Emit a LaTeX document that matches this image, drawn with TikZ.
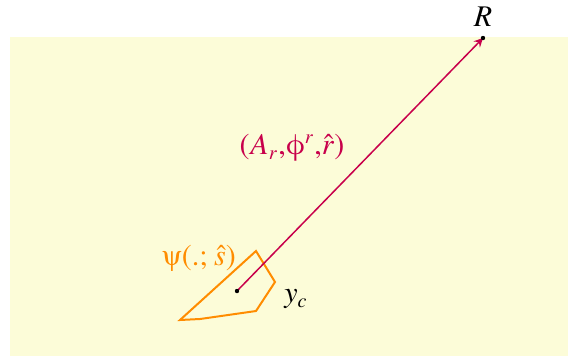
\documentclass[tikz,border=0pt]{standalone}
\usepackage{amsmath,amssymb}
\usepackage{txfonts}
\usepackage{tikz}
\definecolor{bgyellow}{RGB}{252,252,216}
\definecolor{raycol}{RGB}{200,0,75}
\definecolor{srccol}{RGB}{255,140,0}

\begin{document}
\begin{tikzpicture}[x=0.4pt,y=-0.4pt,>=stealth]
  \useasboundingbox (0,0) rectangle (568,356);
  \fill[bgyellow] (10,37) rectangle (568,356);
  % source region
  \draw[srccol,thick] (180,320) -- (200,319) -- (256,311) -- (275,282) -- (256,251) -- cycle;
  \coordinate (yc) at (237,291);
  \coordinate (R) at (483,38);
  \draw[raycol,->,semithick] (yc) -- (R);
  \fill (yc) circle (2.2);
  \fill (R) circle (2.2);
  \node (Rlab) at (483,17) {\large\(R\)};
  \node (yclab) at (296,299) {\large\(y_c\)};
  \node[srccol] (psilab) at (199,258) {\large\(\psiup(.;\hat{s})\)};
  \node[raycol] (raylab) at (292,148) {\large\((A_r{,}\phiup^r{,}\hat{r})\)};
\end{tikzpicture}
\end{document}
